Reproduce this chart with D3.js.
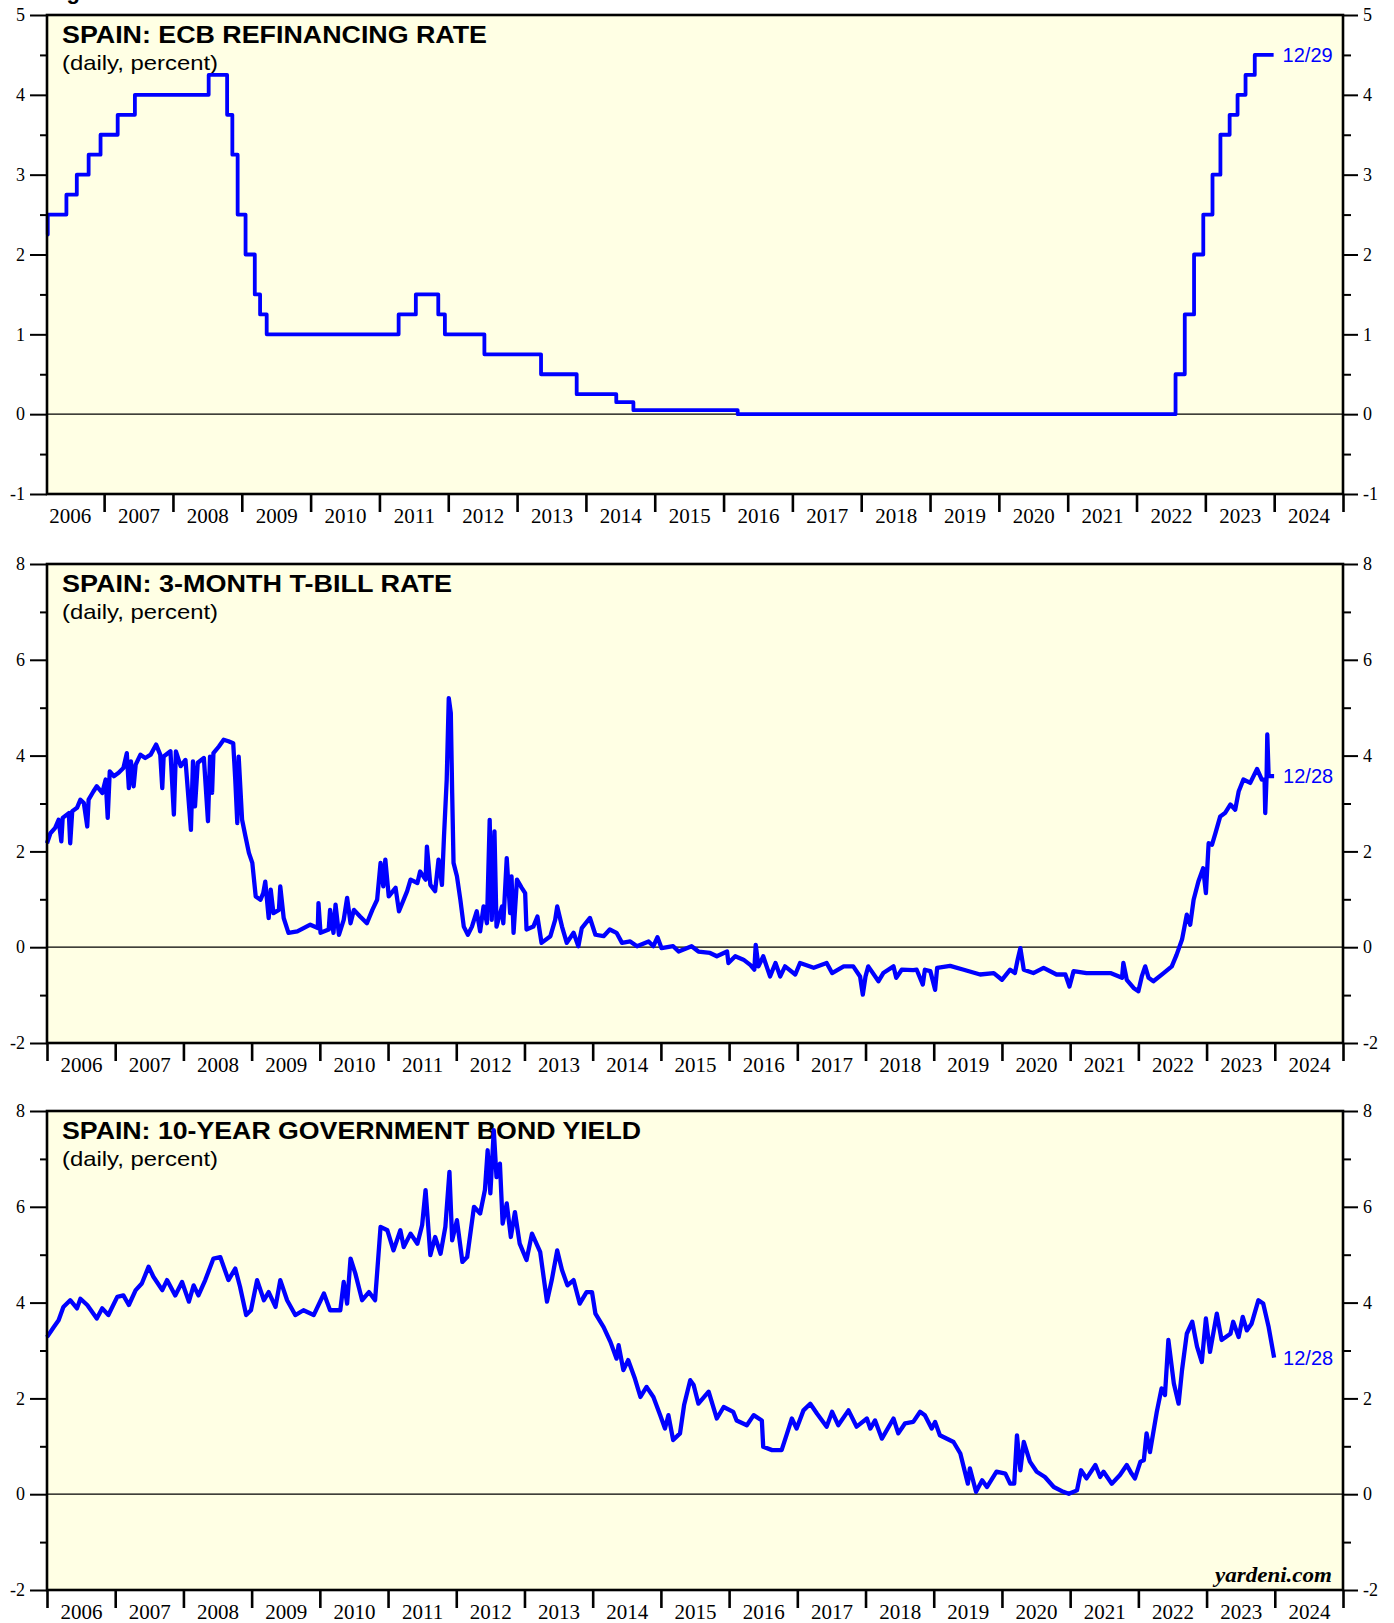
<!DOCTYPE html>
<html>
<head>
<meta charset="utf-8">
<script src="https://cdn.jsdelivr.net/npm/d3@7"></script>
<style>
  body { margin: 0; background: #fff; }
</style>
</head>
<body>
<div id="chart"></div>
<script>
// ---- data (decimal year, percent) ----
// ECB main refinancing rate, value holds from each date until the next one
var ecbRate = [
  [2006.17, 2.25], [2006.181, 2.5], [2006.452, 2.75], [2006.603, 3.0], [2006.775, 3.25],
  [2006.948, 3.5], [2007.197, 3.75], [2007.447, 4.0], [2008.519, 4.25], [2008.787, 3.75],
  [2008.863, 3.25], [2008.940, 2.5], [2009.055, 2.0], [2009.189, 1.5], [2009.266, 1.25],
  [2009.362, 1.0], [2011.279, 1.25], [2011.529, 1.5], [2011.855, 1.25], [2011.951, 1.0],
  [2012.525, 0.75], [2013.348, 0.5], [2013.866, 0.25], [2014.441, 0.15], [2014.690, 0.05],
  [2016.205, 0.0], [2022.567, 0.5], [2022.701, 1.25], [2022.836, 2.0], [2022.970, 2.5],
  [2023.104, 3.0], [2023.219, 3.5], [2023.353, 3.75], [2023.468, 4.0], [2023.584, 4.25],
  [2023.718, 4.5], [2023.992, 4.5]
];

// Spain 3-month T-bill rate
var tbillRate = [
  [2006.00,2.17],[2006.05,2.38],[2006.12,2.49],[2006.17,2.66],[2006.21,2.21],[2006.23,2.70],
  [2006.32,2.80],[2006.34,2.17],[2006.37,2.84],[2006.44,2.91],[2006.49,3.08],[2006.54,3.01],
  [2006.59,2.52],[2006.61,3.08],[2006.68,3.25],[2006.73,3.36],[2006.81,3.22],[2006.86,3.50],
  [2006.89,2.70],[2006.92,3.67],[2006.98,3.57],[2007.05,3.64],[2007.12,3.74],[2007.17,4.05],
  [2007.20,3.32],[2007.23,3.88],[2007.27,3.36],[2007.30,3.81],[2007.37,4.02],[2007.44,3.95],
  [2007.52,4.02],[2007.60,4.23],[2007.66,4.02],[2007.69,3.32],[2007.71,3.98],[2007.81,4.09],
  [2007.86,2.77],[2007.89,4.09],[2007.96,3.78],[2008.03,3.91],[2008.11,2.45],[2008.14,3.88],
  [2008.17,2.94],[2008.21,3.85],[2008.30,3.95],[2008.36,2.63],[2008.39,3.98],[2008.42,3.22],
  [2008.44,4.05],[2008.52,4.19],[2008.59,4.33],[2008.66,4.30],[2008.73,4.26],[2008.76,3.50],
  [2008.79,2.59],[2008.81,3.98],[2008.86,2.66],[2008.91,2.31],[2008.96,1.97],[2009.01,1.76],
  [2009.06,1.06],[2009.13,0.99],[2009.17,1.13],[2009.20,1.37],[2009.25,0.61],[2009.28,1.20],
  [2009.32,0.71],[2009.40,0.78],[2009.42,1.27],[2009.47,0.61],[2009.54,0.30],[2009.67,0.33],
  [2009.86,0.47],[2009.97,0.40],[2009.98,0.92],[2010.01,0.30],[2010.13,0.37],[2010.15,0.78],
  [2010.20,0.30],[2010.23,0.89],[2010.28,0.26],[2010.35,0.57],[2010.40,1.03],[2010.45,0.50],
  [2010.50,0.78],[2010.59,0.64],[2010.69,0.50],[2010.77,0.78],[2010.84,0.99],[2010.89,1.76],
  [2010.93,1.27],[2010.96,1.83],[2011.01,1.06],[2011.11,1.24],[2011.16,0.75],[2011.28,1.17],
  [2011.33,1.41],[2011.43,1.34],[2011.47,1.58],[2011.55,1.41],[2011.57,2.10],[2011.62,1.30],
  [2011.69,1.17],[2011.74,1.83],[2011.79,1.30],[2011.82,2.31],[2011.86,3.50],[2011.89,5.20],
  [2011.92,4.89],[2011.94,3.22],[2011.96,1.76],[2012.01,1.48],[2012.06,0.99],[2012.11,0.43],
  [2012.17,0.26],[2012.23,0.43],[2012.30,0.75],[2012.35,0.33],[2012.40,0.85],[2012.45,0.50],
  [2012.49,2.66],[2012.52,0.57],[2012.56,2.42],[2012.59,0.43],[2012.67,0.85],[2012.69,0.50],
  [2012.74,1.86],[2012.79,0.71],[2012.81,1.48],[2012.84,0.30],[2012.89,1.41],[2012.96,1.24],
  [2013.01,1.13],[2013.03,0.37],[2013.13,0.43],[2013.19,0.64],[2013.25,0.09],[2013.38,0.23],
  [2013.45,0.57],[2013.48,0.85],[2013.55,0.43],[2013.62,0.09],[2013.72,0.30],[2013.79,0.02],
  [2013.84,0.40],[2013.96,0.61],[2014.04,0.26],[2014.16,0.23],[2014.25,0.37],[2014.35,0.30],
  [2014.43,0.09],[2014.55,0.12],[2014.65,0.02],[2014.82,0.12],[2014.89,0.02],[2014.95,0.21],
  [2015.01,-0.02],[2015.18,0.02],[2015.26,-0.09],[2015.45,0.02],[2015.55,-0.09],[2015.72,-0.12],
  [2015.82,-0.19],[2015.97,-0.09],[2015.99,-0.33],[2016.09,-0.19],[2016.21,-0.26],[2016.31,-0.37],
  [2016.37,-0.47],[2016.39,0.05],[2016.43,-0.40],[2016.50,-0.19],[2016.60,-0.61],[2016.68,-0.33],
  [2016.75,-0.61],[2016.82,-0.40],[2016.97,-0.57],[2017.04,-0.33],[2017.24,-0.43],[2017.43,-0.33],
  [2017.51,-0.54],[2017.68,-0.40],[2017.82,-0.40],[2017.92,-0.61],[2017.96,-0.99],[2018.00,-0.61],
  [2018.04,-0.40],[2018.19,-0.71],[2018.26,-0.54],[2018.41,-0.40],[2018.45,-0.64],[2018.53,-0.47],
  [2018.70,-0.48],[2018.75,-0.47],[2018.84,-0.78],[2018.87,-0.47],[2018.95,-0.50],[2019.02,-0.89],
  [2019.05,-0.43],[2019.24,-0.39],[2019.44,-0.47],[2019.68,-0.57],[2019.88,-0.54],[2020.00,-0.68],
  [2020.12,-0.47],[2020.19,-0.54],[2020.23,-0.26],[2020.27,-0.02],[2020.32,-0.47],[2020.46,-0.54],
  [2020.61,-0.43],[2020.80,-0.57],[2020.93,-0.57],[2020.99,-0.82],[2021.05,-0.50],[2021.24,-0.54],
  [2021.39,-0.54],[2021.59,-0.54],[2021.76,-0.64],[2021.78,-0.33],[2021.83,-0.68],[2021.93,-0.85],
  [2022.00,-0.92],[2022.05,-0.61],[2022.10,-0.40],[2022.15,-0.64],[2022.22,-0.71],[2022.37,-0.54],
  [2022.49,-0.40],[2022.56,-0.16],[2022.64,0.16],[2022.71,0.68],[2022.76,0.47],[2022.81,0.99],
  [2022.88,1.37],[2022.95,1.65],[2022.99,1.13],[2023.03,2.17],[2023.08,2.14],[2023.13,2.38],
  [2023.20,2.73],[2023.27,2.80],[2023.35,2.98],[2023.42,2.87],[2023.47,3.25],[2023.54,3.50],
  [2023.64,3.43],[2023.74,3.72],[2023.81,3.50],[2023.85,3.50],[2023.86,2.80],[2023.88,3.57],
  [2023.89,4.44],[2023.91,3.57],[2023.99,3.57]
];

// Spain 10-year government bond yield
var bondYield = [
  [2006.00,3.28],[2006.10,3.49],[2006.17,3.63],[2006.24,3.91],[2006.34,4.05],[2006.44,3.88],
  [2006.49,4.08],[2006.59,3.95],[2006.73,3.67],[2006.81,3.88],[2006.90,3.74],[2007.03,4.12],
  [2007.12,4.15],[2007.20,3.95],[2007.30,4.26],[2007.39,4.40],[2007.49,4.75],[2007.56,4.54],
  [2007.69,4.26],[2007.76,4.47],[2007.88,4.15],[2007.98,4.43],[2008.08,4.02],[2008.15,4.36],
  [2008.22,4.15],[2008.32,4.47],[2008.44,4.92],[2008.54,4.95],[2008.66,4.47],[2008.76,4.71],
  [2008.83,4.33],[2008.92,3.74],[2008.99,3.84],[2009.08,4.47],[2009.18,4.05],[2009.25,4.22],
  [2009.35,3.91],[2009.42,4.47],[2009.52,4.05],[2009.64,3.74],[2009.76,3.84],[2009.91,3.74],
  [2010.06,4.19],[2010.15,3.84],[2010.30,3.84],[2010.35,4.43],[2010.40,3.98],[2010.45,4.92],
  [2010.52,4.61],[2010.62,4.05],[2010.72,4.22],[2010.81,4.05],[2010.89,5.58],[2010.99,5.51],
  [2011.08,5.09],[2011.18,5.51],[2011.23,5.16],[2011.33,5.44],[2011.43,5.23],[2011.50,5.62],
  [2011.55,6.35],[2011.62,4.99],[2011.69,5.37],[2011.77,5.02],[2011.84,5.58],[2011.90,6.73],
  [2011.94,5.30],[2012.01,5.72],[2012.09,4.85],[2012.16,4.95],[2012.26,6.00],[2012.35,5.86],
  [2012.42,6.35],[2012.46,7.18],[2012.50,6.28],[2012.55,7.60],[2012.59,6.62],[2012.64,6.90],
  [2012.68,5.65],[2012.74,6.07],[2012.80,5.37],[2012.86,5.89],[2012.93,5.23],[2013.03,4.89],
  [2013.11,5.44],[2013.23,5.06],[2013.33,4.02],[2013.40,4.47],[2013.48,5.09],[2013.55,4.68],
  [2013.63,4.36],[2013.72,4.47],[2013.81,3.98],[2013.91,4.22],[2013.99,4.22],[2014.04,3.77],
  [2014.16,3.49],[2014.26,3.18],[2014.35,2.83],[2014.38,3.11],[2014.45,2.59],[2014.52,2.80],
  [2014.62,2.41],[2014.70,2.03],[2014.79,2.24],[2014.89,2.03],[2014.99,1.65],[2015.06,1.37],
  [2015.11,1.65],[2015.18,1.13],[2015.28,1.27],[2015.34,1.86],[2015.43,2.38],[2015.48,2.28],
  [2015.55,1.89],[2015.70,2.14],[2015.82,1.58],[2015.92,1.82],[2016.06,1.72],[2016.11,1.54],
  [2016.26,1.44],[2016.36,1.65],[2016.48,1.54],[2016.50,0.99],[2016.63,0.92],[2016.77,0.92],
  [2016.85,1.27],[2016.92,1.58],[2016.99,1.37],[2017.09,1.75],[2017.19,1.89],[2017.29,1.68],
  [2017.43,1.41],[2017.51,1.72],[2017.60,1.44],[2017.75,1.75],[2017.87,1.41],[2018.02,1.58],
  [2018.07,1.37],[2018.14,1.54],[2018.24,1.16],[2018.41,1.58],[2018.48,1.27],[2018.58,1.48],
  [2018.70,1.51],[2018.80,1.72],[2018.87,1.65],[2018.97,1.37],[2019.02,1.51],[2019.09,1.23],
  [2019.29,1.09],[2019.39,0.85],[2019.50,0.22],[2019.53,0.54],[2019.62,0.05],[2019.71,0.29],
  [2019.78,0.15],[2019.92,0.47],[2020.05,0.43],[2020.12,0.22],[2020.18,0.22],[2020.22,1.23],
  [2020.27,0.50],[2020.32,1.09],[2020.41,0.68],[2020.51,0.47],[2020.63,0.36],[2020.76,0.15],
  [2020.90,0.05],[2020.98,0.01],[2021.10,0.08],[2021.16,0.50],[2021.24,0.33],[2021.37,0.61],
  [2021.44,0.36],[2021.49,0.47],[2021.61,0.22],[2021.73,0.40],[2021.83,0.61],[2021.90,0.43],
  [2021.95,0.33],[2022.03,0.68],[2022.08,0.71],[2022.12,1.27],[2022.17,0.88],[2022.27,1.72],
  [2022.34,2.21],[2022.39,2.07],[2022.44,3.22],[2022.52,2.31],[2022.59,1.89],[2022.64,2.59],
  [2022.71,3.35],[2022.79,3.60],[2022.86,3.08],[2022.93,2.76],[2022.99,3.67],[2023.05,2.97],
  [2023.15,3.77],[2023.22,3.22],[2023.35,3.35],[2023.39,3.60],[2023.47,3.28],[2023.53,3.70],
  [2023.59,3.42],[2023.66,3.56],[2023.76,4.05],[2023.83,3.98],[2023.91,3.49],[2023.99,2.85]
];

var yearLabels = d3.range(2006, 2025);   // 2006 ... 2024

// ---- layout ----
var svgWidth = 1394;
var svgHeight = 1623;
var plotLeft = 47;
var plotWidth = 1296;
var panelHeight = 479;

var svg = d3.select("#chart")
  .append("svg")
  .attr("width", svgWidth)
  .attr("height", svgHeight)
  .style("display", "block")
  .style("background", "#fff");

// bottom edge of the page title, which sits above the picture
svg.append("text")
  .attr("x", 47)
  .attr("y", -1.5)
  .style("font-family", "'Liberation Sans', Arial, sans-serif")
  .style("font-weight", "bold")
  .style("font-size", "22px")
  .text("Figure 1.");

var panels = [
  {
    top: 15, xStart: 2006.17, yMin: -1, yMax: 5, major: 1, minor: 0.5,
    title: "SPAIN: ECB REFINANCING RATE", titleWidth: 425,
    data: ecbRate, curve: d3.curveStepAfter, width: 3.8, label: "12/29"
  },
  {
    top: 564, xStart: 2006, yMin: -2, yMax: 8, major: 2, minor: 1,
    title: "SPAIN: 3-MONTH T-BILL RATE", titleWidth: 390,
    data: tbillRate, curve: d3.curveLinear, width: 4.3, label: "12/28"
  },
  {
    top: 1111, xStart: 2006, yMin: -2, yMax: 8, major: 2, minor: 1,
    title: "SPAIN: 10-YEAR GOVERNMENT BOND YIELD", titleWidth: 579,
    data: bondYield, curve: d3.curveLinear, width: 4.3, label: "12/28", credit: true
  }
];

var sansFont = "'Liberation Sans', Arial, sans-serif";
var serifFont = "'Liberation Serif', 'Times New Roman', serif";

function styleAxis(axisGroup, fontSize) {
  axisGroup.select(".domain").remove();
  axisGroup.selectAll("line").attr("stroke", "#000").attr("stroke-width", 2);
  axisGroup.selectAll("text")
    .attr("fill", "#000")
    .style("font-family", serifFont)
    .style("font-size", fontSize);
}

function makePanel(p) {
  var chartGroup = svg.append("g")
    .attr("transform", `translate(${plotLeft}, ${p.top})`);

  var xScale = d3.scaleLinear().domain([p.xStart, 2025]).range([0, plotWidth]);
  var yScale = d3.scaleLinear().domain([p.yMin, p.yMax]).range([panelHeight, 0]);

  // background
  chartGroup.append("rect")
    .attr("width", plotWidth)
    .attr("height", panelHeight)
    .attr("fill", "#ffffe4");

  // zero line
  chartGroup.append("line")
    .attr("x1", 0).attr("x2", plotWidth)
    .attr("y1", yScale(0)).attr("y2", yScale(0))
    .attr("stroke", "#000")
    .attr("stroke-width", 1.3);

  // titles
  chartGroup.append("text")
    .attr("x", 15).attr("y", 28)
    .attr("textLength", p.titleWidth)
    .attr("lengthAdjust", "spacingAndGlyphs")
    .style("font-family", sansFont)
    .style("font-weight", "bold")
    .style("font-size", "23px")
    .text(p.title);

  chartGroup.append("text")
    .attr("x", 15).attr("y", 55)
    .attr("textLength", 156)
    .attr("lengthAdjust", "spacingAndGlyphs")
    .style("font-family", sansFont)
    .style("font-size", "21px")
    .text("(daily, percent)");

  // data line
  var line = d3.line()
    .x(d => xScale(d[0]))
    .y(d => yScale(d[1]))
    .curve(p.curve);

  chartGroup.append("path")
    .datum(p.data)
    .attr("d", line)
    .attr("fill", "none")
    .attr("stroke", "#0000ff")
    .attr("stroke-width", p.width)
    .attr("stroke-linejoin", "round");

  // last date label
  var last = p.data[p.data.length - 1];
  chartGroup.append("text")
    .attr("x", xScale(last[0]) + 9)
    .attr("y", yScale(last[1]))
    .attr("dy", "0.35em")
    .attr("fill", "#0000ff")
    .style("font-family", sansFont)
    .style("font-size", "20px")
    .text(p.label);

  if (p.credit) {
    chartGroup.append("text")
      .attr("x", plotWidth - 11)
      .attr("y", panelHeight - 8)
      .attr("text-anchor", "end")
      .attr("textLength", 117)
      .attr("lengthAdjust", "spacingAndGlyphs")
      .style("font-family", serifFont)
      .style("font-weight", "bold")
      .style("font-style", "italic")
      .style("font-size", "20px")
      .text("yardeni.com");
  }

  // y axes, major and minor ticks on both sides
  var majorTicks = d3.range(p.yMin, p.yMax + 0.001, p.major);
  var minorTicks = d3.range(p.yMin, p.yMax, p.minor).filter(v => Math.abs(v / p.major - Math.round(v / p.major)) > 0.01);

  var leftMinor = chartGroup.append("g")
    .call(d3.axisLeft(yScale).tickValues(minorTicks).tickSize(7).tickFormat(""));
  styleAxis(leftMinor, "18px");
  var leftMajor = chartGroup.append("g")
    .call(d3.axisLeft(yScale).tickValues(majorTicks).tickSize(17).tickPadding(5).tickFormat(d => String(d)));
  styleAxis(leftMajor, "18px");

  var rightMinor = chartGroup.append("g")
    .attr("transform", `translate(${plotWidth}, 0)`)
    .call(d3.axisRight(yScale).tickValues(minorTicks).tickSize(8).tickFormat(""));
  styleAxis(rightMinor, "18px");
  var rightMajor = chartGroup.append("g")
    .attr("transform", `translate(${plotWidth}, 0)`)
    .call(d3.axisRight(yScale).tickValues(majorTicks).tickSize(15).tickPadding(5).tickFormat(d => String(d)));
  styleAxis(rightMajor, "18px");

  // x axis: year boundary ticks, labels centred in each year
  var yearTicks = d3.range(Math.ceil(p.xStart), 2026);
  var xTicks = chartGroup.append("g")
    .attr("transform", `translate(0, ${panelHeight})`)
    .call(d3.axisBottom(xScale).tickValues(yearTicks).tickSize(18).tickFormat(""));
  styleAxis(xTicks, "21px");
  xTicks.selectAll("line").attr("stroke-width", 2.6);

  var xLabels = chartGroup.append("g")
    .attr("transform", `translate(0, ${panelHeight})`)
    .call(d3.axisBottom(xScale).tickValues(yearLabels.map(y => y + 0.5)).tickSize(0).tickFormat(d => String(Math.floor(d))));
  styleAxis(xLabels, "21px");
  xLabels.selectAll("text").attr("y", 29).attr("dy", null);

  // frame
  chartGroup.append("rect")
    .attr("width", plotWidth)
    .attr("height", panelHeight)
    .attr("fill", "none")
    .attr("stroke", "#000")
    .attr("stroke-width", 2.6);
}

panels.forEach(makePanel);
</script>
</body>
</html>
